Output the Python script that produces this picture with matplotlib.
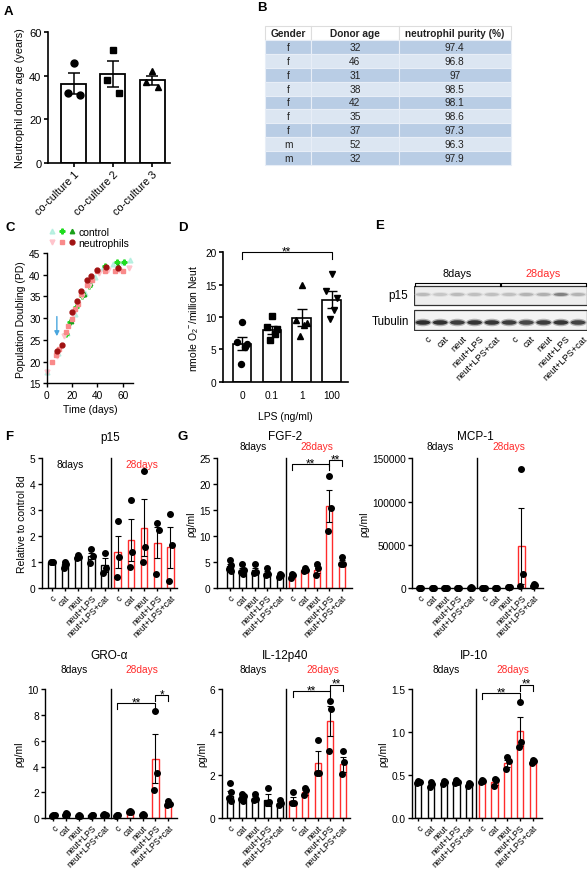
import numpy as np
import matplotlib
matplotlib.use("Agg")
import matplotlib.pyplot as plt
from matplotlib.legend_handler import HandlerTuple
from matplotlib.patches import Rectangle, Ellipse
from matplotlib.ticker import FormatStrFormatter

plt.rcParams['font.family'] = ['Liberation Sans', 'DejaVu Sans']
plt.rcParams['mathtext.default'] = 'regular'

RED = '#ff2b2b'

# ---------------- data ----------------
# A: donor age per co-culture
a_groups = ['co-culture 1', 'co-culture 2', 'co-culture 3']
a_mean = [36.3, 40.7, 38.0]
a_sem = [4.85, 5.9, 2.1]
a_pts = [[46, 32, 31], [52, 38, 32], [42, 37, 35]]

# B: donor table
b_cols = ['Gender', 'Donor age', 'neutrophil purity (%)']
b_gender = ['f', 'f', 'f', 'f', 'f', 'f', 'f', 'm', 'm']
b_age = ['32', '46', '31', '38', '42', '35', '37', '52', '32']
b_purity = ['97.4', '96.8', '97', '98.5', '98.1', '98.6', '97.3', '96.3', '97.9']

# C: population doubling curves
c_ctrl_a_day = [0, 9, 16, 22, 30, 38, 44, 52, 60, 66]
c_ctrl_a_pd = [17.5, 22.0, 26.5, 31.0, 35.8, 39.5, 41.5, 42.5, 43.0, 43.5]
c_ctrl_b_day = [15, 18, 23, 28, 33, 46, 55, 61]
c_ctrl_b_pd = [26.3, 29.0, 32.5, 35.0, 37.3, 42.1, 42.9, 42.9]
c_ctrl_c_day = [19, 29, 34, 47, 56]
c_ctrl_c_pd = [29.3, 35.5, 38.0, 41.8, 42.0]
c_neut_a_day = [0, 8, 14, 21, 28, 33, 41, 48, 57, 65]
c_neut_a_pd = [17.7, 21.2, 25.8, 31.0, 35.0, 37.3, 40.3, 41.2, 41.0, 41.5]
c_neut_b_day = [4, 7, 10, 15, 17, 20, 22, 25, 27, 32, 36, 40, 46, 54, 60]
c_neut_b_pd = [19.8, 21.6, 23.0, 26.7, 28.3, 29.7, 32.0, 33.3, 35.6, 37.6, 38.8,
               40.8, 40.9, 40.9, 40.9]
c_neut_c_day = [8, 12, 20, 24, 27, 32, 35, 40, 47, 56]
c_neut_c_pd = [22.4, 23.8, 31.5, 34.0, 36.3, 38.8, 39.8, 41.0, 41.8, 41.6]
c_arrow_day = 8
c_arrow_pd = [31.0, 25.2]

# D: superoxide vs LPS
d_lps = ['0', '0.1', '1', '100']
d_mean = [5.9, 8.0, 9.9, 12.7]
d_sem = [1.05, 0.65, 1.35, 1.3]
d_pts = [[9.3, 6.2, 5.9, 5.3, 2.8], [10.2, 8.5, 8.2, 7.3, 6.5],
         [14.9, 9.5, 9.0, 8.8, 7.0], [16.7, 14.0, 13.0, 11.1, 9.7]]
d_markers = ['o', 's', '^', 'v']

# E: western blot band intensities
lanes = ['c', 'cat', 'neut', 'neut+LPS', 'neut+LPS+cat']
e_p15 = [0.30, 0.25, 0.30, 0.28, 0.28, 0.28, 0.33, 0.35, 0.55, 0.33]
e_tub = [0.92, 0.90, 0.85, 0.88, 0.88, 0.85, 0.80, 0.85, 0.88, 0.82]

# F: p15 quantification
p15_mean = [1.0, 0.92, 1.2, 1.23, 0.9, 1.4, 1.85, 2.33, 1.75, 1.57]
p15_sem = [0.0, 0.07, 0.03, 0.12, 0.26, 0.63, 0.8, 1.1, 0.6, 0.77]
p15_pts = [[1.0, 1.0, 1.0], [1.0, 0.95, 0.78], [1.27, 1.22, 1.15], [1.53, 1.25, 0.97],
           [1.37, 0.78, 0.6], [2.6, 1.2, 0.45], [3.4, 1.4, 0.82], [4.5, 1.6, 1.0],
           [2.5, 2.25, 0.55], [2.87, 1.68, 0.27]]

# G: cytokines
fgf_mean = [4.2, 3.6, 3.5, 3.0, 2.5, 2.4, 3.6, 3.6, 15.9, 5.0]
fgf_sem = [0.5, 0.4, 0.5, 0.4, 0.2, 0.25, 0.2, 0.7, 3.1, 0.5]
fgf_pts = [[5.5, 4.4, 3.8, 3.4], [4.7, 3.6, 3.2, 2.8], [4.7, 3.2, 2.9], [3.9, 2.8, 2.6],
           [2.8, 2.5, 2.2], [2.8, 2.5, 2.0], [4.0, 3.6, 3.4], [4.7, 3.9, 2.5],
           [21.6, 15.4, 11.0], [6.1, 4.7, 4.7]]

mcp_mean = [600, 500, 700, 600, 800, 700, 600, 1500, 49000, 3500]
mcp_sem = [100, 100, 100, 100, 100, 100, 100, 300, 44000, 600]
mcp_pts = [[800, 600, 400], [700, 500, 400], [900, 700, 500], [800, 600, 400],
           [1000, 800, 600], [900, 700, 500], [800, 600, 400], [2000, 1500, 1000],
           [138000, 17000, 3000], [4500, 3500, 2500]]

gro_mean = [0.22, 0.3, 0.2, 0.22, 0.27, 0.22, 0.5, 0.25, 4.6, 1.05]
gro_sem = [0.02, 0.05, 0.02, 0.02, 0.03, 0.02, 0.05, 0.03, 1.9, 0.12]
gro_pts = [[0.25, 0.22, 0.2], [0.4, 0.3, 0.25], [0.22, 0.2, 0.18], [0.24, 0.22, 0.2],
           [0.3, 0.27, 0.25], [0.25, 0.22, 0.2], [0.6, 0.52, 0.48], [0.3, 0.26, 0.22],
           [8.3, 3.5, 2.2], [1.3, 1.1, 1.0]]

il_mean = [1.05, 0.95, 0.95, 0.85, 0.7, 0.8, 1.2, 2.55, 4.5, 2.5]
il_sem = [0.22, 0.1, 0.1, 0.26, 0.08, 0.18, 0.1, 0.55, 0.7, 0.33]
il_pts = [[1.65, 1.2, 0.95, 0.8], [1.15, 1.05, 0.9, 0.8], [1.15, 0.9, 0.85], [1.4, 0.75, 0.7],
          [0.85, 0.7, 0.6], [1.2, 0.7, 0.7], [1.4, 1.3, 1.1], [3.65, 2.1, 2.1],
          [5.45, 5.05, 3.1], [3.1, 2.6, 2.05]]

ip_mean = [0.42, 0.38, 0.42, 0.42, 0.4, 0.43, 0.42, 0.64, 1.01, 0.66]
ip_sem = [0.01, 0.02, 0.01, 0.01, 0.01, 0.01, 0.03, 0.04, 0.17, 0.01]
ip_pts = [[0.43, 0.42, 0.41], [0.42, 0.40, 0.36], [0.43, 0.42, 0.40], [0.44, 0.42, 0.41],
          [0.41, 0.40, 0.38], [0.44, 0.43, 0.42], [0.46, 0.44, 0.37], [0.71, 0.66, 0.57],
          [1.35, 0.89, 0.83], [0.68, 0.67, 0.64]]

# ---------------- layout helpers ----------------
W, H = 588, 879
fig = plt.figure(figsize=(W / 100, H / 100), dpi=100)


def add_ax(l, t, r, b):
    return fig.add_axes([l / W, 1 - b / H, (r - l) / W, (b - t) / H])


def style(ax, lw=1.0, ls=7.3):
    for s in ['top', 'right']:
        ax.spines[s].set_visible(False)
    for s in ['left', 'bottom']:
        ax.spines[s].set_linewidth(lw)
    ax.tick_params(direction='out', length=3, width=lw, labelsize=ls, pad=1.5)


def letter(x, y, s):
    fig.text(x / W, 1 - y / H, s, fontsize=9.5, fontweight='bold', va='center', ha='left')


PT_OFF = [0.0, 0.1, -0.08, 0.06, -0.04]

# ---------------- A ----------------
ax = add_ax(47.7, 33.3, 170, 163.7)
style(ax, 1.2, 8)
xa = np.arange(3)
ax.bar(xa, a_mean, width=0.64, facecolor='white', edgecolor='black', lw=1.3, zorder=2)
ax.errorbar(xa, a_mean, yerr=a_sem, fmt='none', ecolor='black', elinewidth=1.1,
            capsize=4, capthick=1.1, zorder=3)
a_mk = ['o', 's', '^']
a_off = [0.0, -0.16, 0.16]
for i, pts in enumerate(a_pts):
    ax.plot([i + a_off[k] for k in range(len(pts))], pts, a_mk[i], color='black',
            ms=5, zorder=4)
ax.set_xlim(-0.67, 2.46)
ax.set_ylim(0, 60)
ax.set_yticks([0, 20, 40, 60])
ax.set_xticks(xa)
ax.set_xticklabels(a_groups, rotation=45, ha='right', rotation_mode='anchor', fontsize=7.8)
ax.set_ylabel('Neutrophil donor age (years)', fontsize=7.8, labelpad=3)
letter(4, 12, 'A')

# ---------------- B ----------------
ax = add_ax(265, 27, 511, 166)
ax.axis('off')
rows = [[g, a, p] for g, a, p in zip(b_gender, b_age, b_purity)]
colours = [['#b9cde5'] * 3 if i % 2 == 0 else ['#dce6f2'] * 3 for i in range(len(rows))]
tab = ax.table(cellText=rows, colLabels=b_cols, cellColours=colours, cellLoc='center',
               colLoc='center', bbox=[0, 0, 1, 1], colWidths=[0.188, 0.355, 0.457])
tab.auto_set_font_size(False)
for (r, c), cell in tab.get_celld().items():
    cell.set_fontsize(7.3)
    cell.set_edgecolor('#e8eef7')
    cell.set_linewidth(0.8)
    cell.get_text().set_color('#222222')
    if r == 0:
        cell.set_facecolor('white')
        cell.get_text().set_fontweight('bold')
        cell.set_edgecolor('#dddddd')
letter(257, 8, 'B')

# ---------------- C ----------------
ax = add_ax(46.7, 254, 133, 384.3)
style(ax)
h1, = ax.plot(c_ctrl_a_day, c_ctrl_a_pd, '^', color='#aeeedd', ms=3.5, alpha=0.8, clip_on=False)
h2, = ax.plot(c_ctrl_b_day, c_ctrl_b_pd, 'P', color='#1fdc1f', ms=3.5, clip_on=False)
h3, = ax.plot(c_ctrl_c_day, c_ctrl_c_pd, '^', color='#1aa01a', ms=3.2, clip_on=False)
h4, = ax.plot(c_neut_a_day, c_neut_a_pd, 'v', color='#ffc4cc', ms=3.5, clip_on=False)
h5, = ax.plot(c_neut_b_day, c_neut_b_pd, 's', color='#f98a8a', ms=3.5, clip_on=False)
h6, = ax.plot(c_neut_c_day, c_neut_c_pd, 'o', color='#a01212', ms=3.5, clip_on=False)
ax.annotate('', xy=(c_arrow_day, c_arrow_pd[1]), xytext=(c_arrow_day, c_arrow_pd[0]),
            arrowprops=dict(arrowstyle='-|>', color='#4aa6de', lw=1.0, mutation_scale=7))
ax.set_xlim(0, 68)
ax.set_ylim(15, 45)
ax.set_xticks([0, 20, 40, 60])
ax.set_yticks([15, 20, 25, 30, 35, 40, 45])
ax.set_xlabel('Time (days)', fontsize=7.5, labelpad=3)
ax.set_ylabel('Population Doubling (PD)', fontsize=7.5, labelpad=2)
ax.legend(handles=[(h1, h2, h3), (h4, h5, h6)], labels=['control', 'neutrophils'],
          handler_map={tuple: HandlerTuple(ndivide=None, pad=0.4)}, loc='lower left',
          bbox_to_anchor=(0.03, 1.04), frameon=False, fontsize=7.5, handlelength=2.4,
          borderpad=0, labelspacing=0.1, handletextpad=0.4, borderaxespad=0)
letter(5, 228, 'C')

# ---------------- D ----------------
ax = add_ax(222.7, 253.3, 348, 382.7)
style(ax, 1.2)
xd = np.arange(4)
ax.bar(xd, d_mean, width=0.63, facecolor='white', edgecolor='black', lw=1.2, zorder=2)
ax.errorbar(xd, d_mean, yerr=d_sem, fmt='none', ecolor='black', elinewidth=1.0,
            capsize=3.5, capthick=1.0, zorder=3)
d_off = [0.0, -0.18, 0.18, 0.09, -0.05]
for i, pts in enumerate(d_pts):
    ax.plot([i + d_off[k] for k in range(len(pts))], pts, d_markers[i], color='black',
            ms=4.3, zorder=4)
ax.set_xlim(-0.65, 3.55)
ax.set_ylim(0, 20)
ax.set_yticks([0, 5, 10, 15, 20])
ax.set_xticks(xd)
ax.set_xticklabels(d_lps)
ax.tick_params(axis='x', length=0, pad=6)
ax.set_xlabel('LPS (ng/ml)', fontsize=7.5, labelpad=8)
ax.set_ylabel('nmole O$_2$$^{-}$/million Neut', fontsize=7.5, labelpad=3)
ax.plot([0, 0, 3, 3], [19.0, 20, 20, 19.0], color='black', lw=0.8, clip_on=False)
ax.annotate('**', xy=(1.5, 20), xytext=(0, -1.5), textcoords='offset points',
            ha='center', va='baseline', fontsize=8.5, annotation_clip=False)
letter(178, 228, 'D')

# ---------------- E ----------------
ax = add_ax(414.3, 280, 586.7, 332)
ax.set_xlim(0, 10)
ax.set_ylim(52, 0)
ax.axis('off')
ax.add_patch(Rectangle((0, 7.3), 10, 18.7, facecolor='#ededed', edgecolor='#333333', lw=0.9))
ax.add_patch(Rectangle((0, 31), 10, 20, facecolor='#f3f3f3', edgecolor='#333333', lw=0.9))
for i in range(10):
    g = 1 - 0.9 * e_p15[i]
    ax.add_patch(Ellipse((i + 0.5, 15.5), 1.0, 5.0, color=(g, g, g), alpha=0.35, lw=0))
    ax.add_patch(Ellipse((i + 0.5, 15.5), 0.8, 3.0, color=(g, g, g), lw=0))
    g = 1 - 0.9 * e_tub[i]
    ax.add_patch(Ellipse((i + 0.5, 43.5), 1.0, 7.5, color=(g, g, g), alpha=0.35, lw=0))
    ax.add_patch(Ellipse((i + 0.5, 43.5), 0.85, 4.5, color=(g, g, g), lw=0))
for k, (lab, col) in enumerate([('8days', 'black'), ('28days', RED)]):
    x0, x1 = 5 * k + 0.05, 5 * k + 4.95
    ax.plot([x0, x0, x1, x1], [6.5, 4.3, 4.3, 6.5], color='black', lw=0.8, clip_on=False)
    ax.text(5 * k + 2.5, -6, lab, color=col, fontsize=7.8, ha='center', va='center')
for i, lab in enumerate(lanes * 2):
    ax.text(i + 0.75, 54.5, lab, rotation=45, ha='right', va='top', rotation_mode='anchor',
            fontsize=6.6)
ax.text(-0.35, 16, 'p15', ha='right', va='center', fontsize=8.5)
ax.text(-0.3, 42.5, 'Tubulin', ha='right', va='center', fontsize=8.3)
letter(375, 226, 'E')


# ---------------- F and G ----------------
def cyto(box, xlim, means, sems, pts, ylim, yticks, ylabel, title, day_y, title_y,
         brackets=(), fmt=None, day_x=(1.9, 7.2)):
    ax = add_ax(*box)
    style(ax)
    x = np.arange(10)
    edges = ['black'] * 5 + [RED] * 5
    ax.bar(x, means, width=0.5, facecolor='white', edgecolor=edges, lw=1.0, zorder=2)
    ax.errorbar(x, means, yerr=sems, fmt='none', ecolor='black', elinewidth=0.8,
                capsize=2, capthick=0.8, zorder=3)
    for i, p in enumerate(pts):
        ax.plot([i + PT_OFF[k] for k in range(len(p))], p, 'o', color='black', ms=4.0,
                zorder=4, clip_on=False)
    ax.plot([4.5, 4.5], [ylim[0], ylim[1]], color='black', lw=1.0, clip_on=False)
    ax.set_xlim(*xlim)
    ax.set_ylim(*ylim)
    ax.set_yticks(yticks)
    if fmt:
        ax.yaxis.set_major_formatter(FormatStrFormatter(fmt))
    ax.set_xticks(x)
    ax.set_xticklabels(lanes * 2, rotation=45, ha='right', rotation_mode='anchor', fontsize=6.3)
    ax.tick_params(axis='x', length=2.5, pad=1)
    ax.set_ylabel(ylabel, fontsize=7.5, labelpad=2)
    tr = ax.get_xaxis_transform()
    ax.text(day_x[0], day_y, '8days', transform=tr, fontsize=7.3, ha='center', va='center')
    ax.text(day_x[1], day_y, '28days', transform=tr, fontsize=7.3, ha='center', va='center',
            color=RED)
    ax.text(4.4, title_y, title, transform=tr, fontsize=8.5, ha='center', va='center')
    span = ylim[1] - ylim[0]
    for a, b, y, s in brackets:
        tk = span * 0.045
        ax.plot([a, a, b, b], [y - tk, y, y, y - tk], color='black', lw=0.8, clip_on=False)
        ax.annotate(s, xy=((a + b) / 2, y), xytext=(0, -1.5), textcoords='offset points',
                    ha='center', va='baseline', fontsize=8.5, annotation_clip=False)
    return ax


cyto((41.7, 459.3, 176.7, 589.3), (-0.76, 9.47), p15_mean, p15_sem, p15_pts, (0, 5),
     [0, 1, 2, 3, 4, 5], 'Relative to control 8d', 'p15', 0.955, 1.166, day_x=(1.4, 6.8))
letter(5, 437, 'F')

cyto((216.7, 459.3, 351.7, 589.3), (-1.07, 9.8), fgf_mean, fgf_sem, fgf_pts, (0, 25),
     [0, 5, 10, 15, 20, 25], 'ρg/ml', 'FGF-2', 1.095, 1.175,
     brackets=[(5, 8, 23.9, '**'), (8, 9, 24.7, '**')], day_x=(1.9, 7.0))
letter(178, 437, 'G')

cyto((412.3, 459.3, 543.3, 589.3), (-0.6, 9.73), mcp_mean, mcp_sem, mcp_pts, (0, 150000),
     [0, 50000, 100000, 150000], 'ρg/ml', 'MCP-1', 1.095, 1.175, fmt='%d',
     day_x=(1.6, 7.0))

cyto((45, 690, 176.7, 819.3), (-0.65, 9.66), gro_mean, gro_sem, gro_pts, (0, 10),
     [0, 2, 4, 6, 8, 10], 'ρg/ml', 'GRO-α', 1.155, 1.26,
     brackets=[(5, 8, 8.9, '**'), (8, 9, 9.5, '*')], day_x=(1.6, 6.9))

cyto((221.7, 690, 350, 819.3), (-0.66, 9.58), il_mean, il_sem, il_pts, (0, 6),
     [0, 2, 4, 6], 'ρg/ml', 'IL-12p40', 1.155, 1.26,
     brackets=[(5, 8, 5.9, '**'), (8, 9, 6.2, '**')], day_x=(1.85, 7.4))

cyto((411.7, 690, 541.7, 819.3), (-0.52, 9.7), ip_mean, ip_sem, ip_pts, (0, 1.5),
     [0, 0.5, 1.0, 1.5], 'ρg/ml', 'IP-10', 1.155, 1.26,
     brackets=[(5, 8, 1.45, '**'), (8, 9, 1.55, '**')], fmt='%.1f', day_x=(2.2, 7.45))

fig.savefig('out.png', dpi=100)
